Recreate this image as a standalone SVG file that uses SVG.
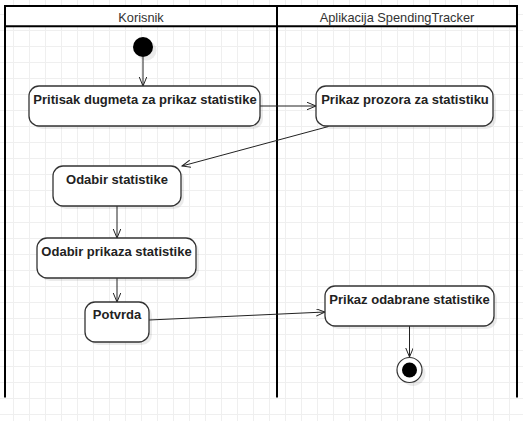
<svg xmlns="http://www.w3.org/2000/svg" width="523" height="421" viewBox="0 0 523 421">
  <style>
    .lane { fill: none; stroke: #000; stroke-width: 2; }
    .hdr { font-family: "Liberation Sans", Arial, sans-serif; font-size: 12.8px; fill: #333; text-anchor: middle; }
    .node { fill: #fff; stroke: #333; stroke-width: 1.3; }
    .shadow { fill: #000; fill-opacity: 0.08; stroke: none; }
    .lbl { font-family: "Liberation Sans", Arial, sans-serif; font-size: 13px; font-weight: bold; fill: #222; text-anchor: middle; }
    .edge { fill: none; stroke: #222; stroke-width: 1; marker-end: url(#arrow); }
  </style>
  <defs>
    <pattern id="grid" patternUnits="userSpaceOnUse" x="13" y="14" width="16" height="16">
      <rect x="0" y="0" width="1" height="16" fill="#efefef"/>
      <rect x="0" y="0" width="16" height="1" fill="#efefef"/>
    </pattern>
    <marker id="arrow" markerUnits="userSpaceOnUse" markerWidth="12" markerHeight="10" refX="9" refY="3.75" orient="auto" viewBox="0 0 12 10">
      <path d="M0,0 L9,3.75 L0,7.5" fill="none" stroke="#222" stroke-width="1"/>
    </marker>
  </defs>

  <rect width="523" height="421" fill="#fff"/>
  <rect width="523" height="421" fill="url(#grid)"/>

  <g id="pool">
    <rect x="5" y="6" width="512" height="20.3" fill="#fff" stroke="none"/>
    <line class="lane" x1="4" y1="6" x2="518" y2="6"/>
    <line class="lane" x1="5" y1="26.3" x2="517" y2="26.3"/>
    <line class="lane" x1="5" y1="5" x2="5" y2="397.5"/>
    <line class="lane" x1="277" y1="6" x2="277" y2="397.5"/>
    <line class="lane" x1="517" y1="5" x2="517" y2="397.5"/>
  </g>
  <g id="lane-korisnik">
    <text class="hdr" x="141" y="21.5">Korisnik</text>
  </g>
  <g id="lane-aplikacija">
    <text class="hdr" x="397" y="21.5">Aplikacija SpendingTracker</text>
  </g>

  <g id="connectors">
    <line class="edge" x1="143" y1="57" x2="143" y2="86"/>
    <line class="edge" x1="260" y1="106" x2="316" y2="106"/>
    <line class="edge" x1="328.5" y1="126.5" x2="182" y2="166"/>
    <line class="edge" x1="117" y1="206" x2="117" y2="238"/>
    <line class="edge" x1="117" y1="278" x2="117" y2="302"/>
    <line class="edge" x1="149" y1="320" x2="325" y2="312"/>
    <line class="edge" x1="409.5" y1="326" x2="409.5" y2="357"/>
  </g>

  <g id="start">
    <circle cx="146.5" cy="50.5" r="10" class="shadow"/>
    <circle cx="143" cy="47" r="10" fill="#000"/>
  </g>

  <g id="n1">
    <rect class="shadow" x="32" y="89" width="231" height="40" rx="10"/>
    <rect class="node" x="29" y="86" width="231" height="40" rx="10"/>
    <text class="lbl" x="145" y="104">Pritisak dugmeta za prikaz statistike</text>
  </g>

  <g id="n2">
    <rect class="shadow" x="319" y="89" width="177" height="40" rx="10"/>
    <rect class="node" x="316" y="86" width="177" height="40" rx="10"/>
    <text class="lbl" x="405" y="104">Prikaz prozora za statistiku</text>
  </g>

  <g id="n3">
    <rect class="shadow" x="56" y="169" width="128" height="40" rx="10"/>
    <rect class="node" x="53" y="166" width="128" height="40" rx="10"/>
    <text class="lbl" x="117" y="183.5">Odabir statistike</text>
  </g>

  <g id="n4">
    <rect class="shadow" x="40" y="241" width="159" height="40" rx="10"/>
    <rect class="node" x="37" y="238" width="159" height="40" rx="10"/>
    <text class="lbl" x="116.5" y="255.5">Odabir prikaza statistike</text>
  </g>

  <g id="n5">
    <rect class="shadow" x="88" y="305" width="64" height="40" rx="10"/>
    <rect class="node" x="85" y="302" width="64" height="40" rx="10"/>
    <text class="lbl" x="117" y="319">Potvrda</text>
  </g>

  <g id="n6">
    <rect class="shadow" x="328" y="289" width="169" height="40" rx="10"/>
    <rect class="node" x="325" y="286" width="169" height="40" rx="10"/>
    <text class="lbl" x="409.5" y="303.5">Prikaz odabrane statistike</text>
  </g>

  <g id="end">
    <circle cx="413" cy="373.5" r="12.5" class="shadow"/>
    <circle cx="409.5" cy="370" r="12.5" fill="#fff" stroke="#333" stroke-width="1.2"/>
    <circle cx="409.5" cy="370" r="7.5" fill="#000"/>
  </g>
</svg>
